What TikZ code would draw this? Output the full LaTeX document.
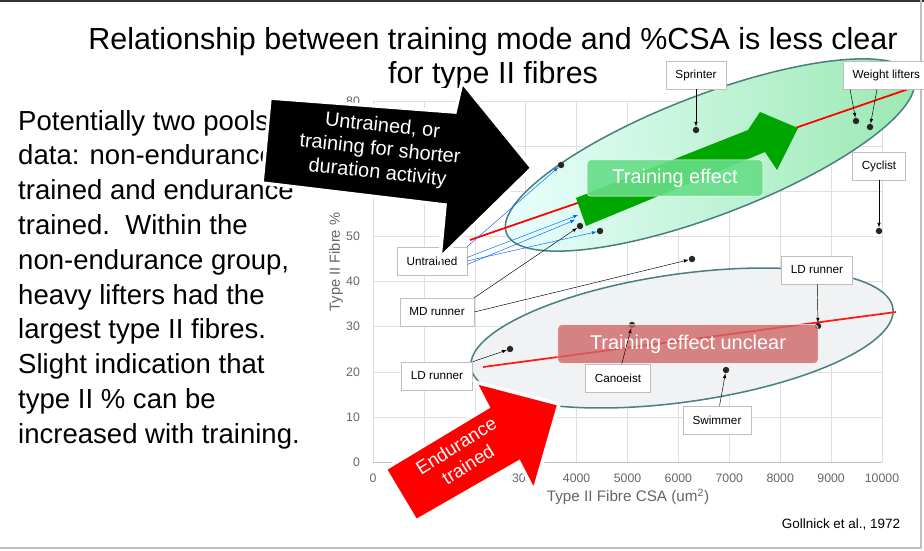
\documentclass[tikz,border=0pt]{standalone}
\usepackage{fontspec}
\setmainfont{Liberation Sans}
\begin{document}
\begin{tikzpicture}[x=0.03cm,y=-0.03cm,
  lbl/.style={draw=gray!50,fill=white,font=\fontsize{10}{10}\selectfont,minimum height=24pt,inner xsep=8pt},
  pt/.style={circle,fill=black!85,inner sep=0pt,minimum size=5.5pt},
  ar/.style={-latex,black,thin},
  bar/.style={-latex,blue!60!cyan,thin},
  tick/.style={font=\fontsize{10.5}{10.5}\selectfont,text=gray!80!black}]
\useasboundingbox (0,0) rectangle (924,550);
\fill[white] (0,0) rectangle (924,550);
\fill[black!80] (0,0) rectangle (924,2);
\draw[gray!50,line width=2pt] (0,548) -- (921,548) -- (921,0);
% title
\node[font=\fontsize{26}{26}\selectfont] (t1) at (493,42) {Relationship between training mode and \%CSA is less clear};
\node[font=\fontsize{26}{26}\selectfont] (t2) at (493,76) {for type II fibres};
% left text
\node[anchor=north west,align=left,font=\fontsize{23.5}{29.7}\selectfont,inner sep=0pt] (lt) at (18,110)
{Potentially two pools of\\data: non-endurance\\trained and endurance\\trained.\ \ Within the\\non-endurance group,\\heavy lifters had the\\largest type II fibres.\\Slight indication that\\type II \% can be\\increased with training.};
% plot area
\fill[white] (328,95) rectangle (900,540);
\fill[white] (370,88) rectangle (900,100);
\foreach \i in {0,...,10} \draw[gray!25] (373+50.9*\i,101) -- (373+50.9*\i,462);
\foreach \j in {0,...,8} \draw[gray!25] (373,462-45.1*\j) -- (882,462-45.1*\j);
\draw[gray!50] (373,462) -- (882,462);
\foreach \j in {0,...,8} \node[tick,anchor=east] at (364,462-45.1*\j) {\number\numexpr\j*10\relax};
\foreach \i/\l in {0/0,1/1000,2/2000,3/3000,4/4000,5/5000,6/6000,7/7000,8/8000,9/9000,10/10000} \node[tick] at (373+50.9*\i,478) {\l};
\node[tick,rotate=90,font=\fontsize{12.5}{12.5}\selectfont] (ylab) at (336,262) {Type II Fibre \%};
\node[tick,font=\fontsize{13}{13}\selectfont] (xlab) at (628,497) {Type II Fibre CSA (um\textsuperscript{2})};
\node[font=\fontsize{11.5}{11.5}\selectfont] (ref) at (841,524) {Gollnick et al., 1972};
% ellipses
\shade[left color=cyan!8,right color=green!55!teal!40,rotate around={21:(710,155)},draw=none] (710,155) ellipse (218 and 60);
\draw[teal!40!gray,line width=1.3pt,rotate around={21:(710,155)}] (710,155) ellipse (218 and 60);
\fill[cyan!10!gray!12,rotate around={8:(682,338)}] (682,338) ellipse (213 and 64);
\draw[teal!40!gray,line width=1.3pt,rotate around={8:(682,338)}] (682,338) ellipse (213 and 64);
% red lines
\coordinate (r1) at (470,240); \coordinate (r2) at (920,85);
\draw[red,line width=1.5pt] (r1) -- (r2);
\coordinate (r3) at (483,367); \coordinate (r4) at (896,312);
\draw[red!90,line width=1.5pt] (r3) -- (r4);
% points
\node[pt] (sp) at (696,130) {};
\node[pt] (w1) at (856,121) {};
\node[pt] (w2) at (870,127) {};
\node[pt] (cy) at (879,231) {};
\node[pt] (u1) at (561,165) {};
\node[pt] (u2) at (580,226) {};
\node[pt] (u3) at (600,231) {};
\node[pt] (md) at (692,259) {};
\node[pt] (ld) at (818,326) {};
\node[pt] (ld2) at (510,349) {};
\node[pt] (ca) at (632,325) {};
\node[pt] (sw) at (726,370) {};
% green arrow
\fill[green!65!black] (576,198) -- (748,130) -- (760,112) -- (798,128) -- (777,170) -- (765,152) -- (586,226) -- cycle;
\node[fill=green!55!teal!60,draw=white,rounded corners=3pt,text=white,font=\fontsize{17}{17}\selectfont,minimum width=150pt,minimum height=31pt,fill opacity=0.9,text opacity=1] (te) at (675,178) {Training effect};
\node[fill=red!70!black!60,draw=white,rounded corners=3pt,text=white,font=\fontsize{17}{17}\selectfont,minimum width=222pt,minimum height=33pt,fill opacity=0.8,text opacity=1] (tu) at (688,344) {Training effect unclear};
% labels
\node[lbl] (lsp) at (696,75) {Sprinter};
\node[lbl,anchor=west] (lwl) at (843,75) {Weight lifters};
\node[lbl] (lcy) at (879,166) {Cyclist};
\node[lbl] (lun) at (432,261) {Untrained};
\node[lbl] (lmd) at (437,312) {MD runner};
\node[lbl] (lld) at (817,270) {LD runner};
\node[lbl] (lld2) at (437,376) {LD runner};
\node[lbl] (lca) at (618,378) {Canoeist};
\node[lbl] (lsw) at (717,420) {Swimmer};
\draw[ar] (lsp) -- (sp);
\draw[ar] ([xshift=6pt]lwl.south west) -- (w1);
\draw[ar] ([xshift=-8pt]lwl.south) -- (w2);
\draw[ar] (lcy) -- (cy);
\draw[ar] (lld) -- (ld);
\draw[ar] (lld2.north east) -- (ld2);
\draw[ar] (lca) -- (ca);
\draw[ar] (lsw) -- (sw);
\draw[ar] (lmd.north east) -- (u2);
\draw[ar] (lmd.east) -- (md);
\draw[bar] (lun.north east) -- (u1);
\draw[bar] (lun.east) -- (u3);
\draw[bar] ([yshift=-3pt]lun.east) -- (575,220);
\draw[bar] ([yshift=3pt]lun.east) -- (578,215);
% black arrow
\draw[white,line width=3pt,fill=black] (270,98) -- (455,112) -- (462,82) -- (532,168) -- (440,258) -- (445,205) -- (262,183) -- cycle;
\node[text=white,rotate=-6,align=center,font=\fontsize{17}{20}\selectfont] (ua) at (380,150) {Untrained, or\\training for shorter\\duration activity};
% red arrow
\draw[white,line width=3pt,fill=red] (385,469) -- (488,407) -- (475,382) -- (559,404) -- (534,491) -- (519,462) -- (416,521) -- cycle;
\node[text=white,rotate=32,align=center,font=\fontsize{16}{19}\selectfont] (ea) at (462,455) {Endurance\\trained};
\end{tikzpicture}
\end{document}
